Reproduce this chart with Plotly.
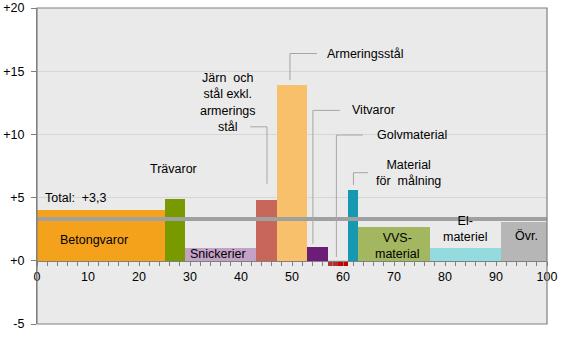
import plotly.graph_objects as go

# ---- data ----
categories = ["Betongvaror", "Trävaror", "Snickerier", "Järn och stål exkl. armeringsstål",
              "Armeringsstål", "Vitvaror", "Golvmaterial", "Golvmaterial (övr.)",
              "Material för målning", "VVS-material", "El-materiel", "Övr."]
weights = [25, 4, 14, 4, 6, 4, 2, 2, 2, 14, 14, 9]          # share of index, %
changes = [4.0, 4.9, 1.0, 4.8, 13.9, 1.1, -0.45, -0.45, 5.6, 2.7, 1.0, 3.1]  # change, %
colors = ["#F4A21B", "#789A00", "#C4A2C8", "#C6675A", "#F8C06A", "#6B1D78",
          "#B8302E", "#C80000", "#1499B0", "#A3B660", "#93DBDF", "#B6B6B6"]
total = 3.3
ytick_vals = [-5, 0, 5, 10, 15, 20]
ytick_text = ["-5", "+0", "+5", "+10", "+15", "+20"]

# derived bar positions
starts = []
acc = 0
for w in weights:
    starts.append(acc)
    acc += w
centers = [s + w / 2 for s, w in zip(starts, weights)]

FONT = "Liberation Sans, Arial, sans-serif"
LEAD = "#A6A6A6"

fig = go.Figure()
fig.add_trace(go.Bar(x=centers, y=changes, width=weights, marker_color=colors,
                     marker_line_width=0, hoverinfo="skip", showlegend=False))
fig.add_trace(go.Scatter(x=[0, 100], y=[total, total], mode="lines",
                         line=dict(color="#A0A0A0", width=4), hoverinfo="skip", showlegend=False))

# leader lines (label -> bar)
leaders = [
    [(41.8, 10.6), (45.1, 10.6), (45.1, 6.1)],
    [(54.9, 16.4), (49.6, 16.4), (49.6, 14.3)],
    [(59.4, 11.9), (54.1, 11.9), (54.1, 1.35)],
    [(63.9, 9.95), (58.7, 9.95), (58.7, 0.3)],
    [(64.9, 6.97), (62.05, 6.97), (62.05, 6.0)],
]
for pts in leaders:
    fig.add_trace(go.Scatter(x=[p[0] for p in pts], y=[p[1] for p in pts], mode="lines",
                             line=dict(color=LEAD, width=1), hoverinfo="skip", showlegend=False))

labels = [
    ("Betongvaror", 11.1, 1.67),
    ("Trävaror", 26.8, 7.3),
    ("Snickerier", 35.5, 0.53),
    ("Järn  och<br>stål exkl.<br>armerings<br>stål", 37.5, 12.5),
    ("Armeringsstål", 64.3, 16.4),
    ("Vitvaror", 66.0, 11.9),
    ("Golvmaterial", 73.6, 9.95),
    ("Material<br>för  målning", 72.8, 6.95),
    ("VVS-<br>material", 70.5, 1.2),
    ("El-<br>materiel", 83.9, 2.5),
    ("Övr.", 96.0, 2.0),
]
for t, x, y in labels:
    fig.add_annotation(x=x, y=y, text=t, showarrow=False, xanchor="center", yanchor="middle",
                       font=dict(family=FONT, size=12.5, color="#000000"))
fig.add_annotation(x=1.2, y=5.0, text="Total:\u00a0\u00a0+3,3", showarrow=False,
                   xanchor="left", yanchor="middle",
                   font=dict(family=FONT, size=12.5, color="#000000"))

fig.add_shape(type="rect", xref="paper", yref="paper", x0=0, x1=1, y0=0, y1=1,
              line=dict(color="#808080", width=1.2), layer="above")

fig.update_layout(
    width=567, height=350,
    margin=dict(l=37, r=20, t=8, b=26, autoexpand=False),
    paper_bgcolor="white", plot_bgcolor="#EAEAEA",
    font=dict(family=FONT, size=12, color="#000000"),
    bargap=0,
    xaxis=dict(range=[0, 100], dtick=10, tick0=0, ticks="outside", ticklen=4,
               tickcolor="#808080", showline=True, linecolor="#808080", linewidth=1.2,
               showgrid=False, zeroline=False, anchor="free", position=0.2, automargin=False,
               minor=dict(dtick=2, ticks="outside", ticklen=4, tickcolor="#808080", showgrid=False),
               tickfont=dict(family=FONT, size=12.5, color="#000000")),
    yaxis=dict(range=[-5, 20], tickvals=ytick_vals, ticktext=ytick_text, ticks="outside",
               ticklen=5, tickcolor="#808080", showline=True, linecolor="#808080", linewidth=1.2,
               showgrid=True, gridcolor="#D6D6D6", gridwidth=1, zeroline=False, automargin=False,
               ticklabelstandoff=4,
               tickfont=dict(family=FONT, size=12.5, color="#000000")),
)

fig.write_html("out.html")
